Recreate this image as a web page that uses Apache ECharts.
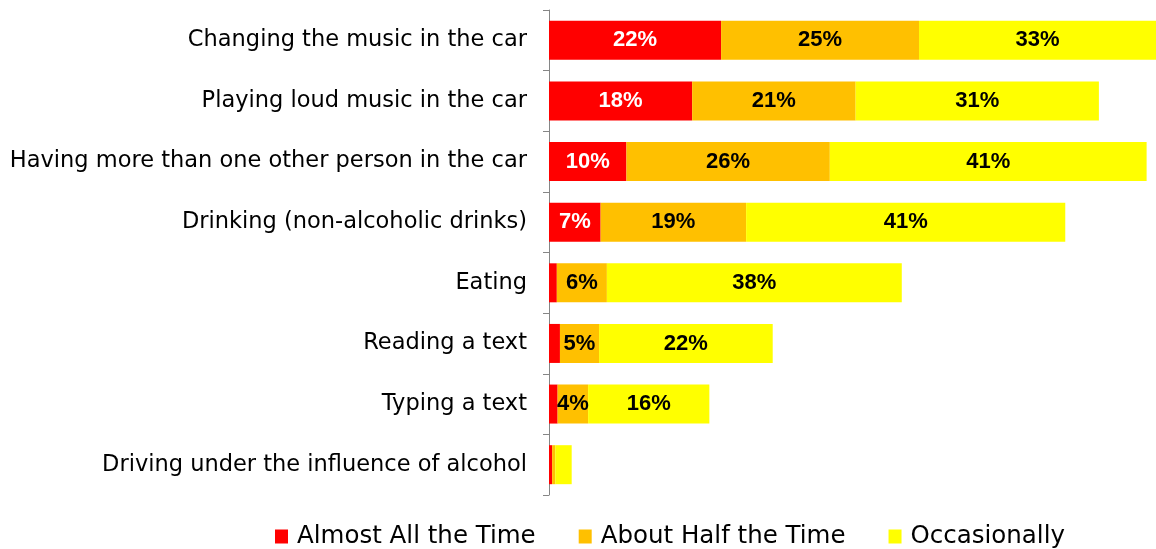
<!DOCTYPE html>
<html>
    <head>
        <meta charset="utf-8">
        <script src="https://cdn.jsdelivr.net/npm/echarts@6/dist/echarts.min.js"></script>
        <style>
            html, body { margin: 0; padding: 0; background: #fff; }
            #main { width: 1156px; height: 549px; }
        </style>
    </head>
    <body>
        <div id="main"></div>
        <script>
            var categories = [
                'Changing the music in the car',
                'Playing loud music in the car',
                'Having more than one other person in the car',
                'Drinking (non-alcoholic drinks)',
                'Eating',
                'Reading a text',
                'Typing a text',
                'Driving under the influence of alcohol'
            ];
            var almostAll = [22.0, 18.3, 9.9, 6.6, 1.0, 1.4, 1.1, 0.4];
            var aboutHalf = [25.3, 20.9, 26.0, 18.6, 6.4, 5.0, 3.9, 0.4];
            var occasionally = [33.0, 31.1, 40.5, 40.8, 37.7, 22.2, 15.5, 2.1];

            var chart = echarts.init(document.getElementById('main'));

            function pct(p) {
                // small segments carry no label
                return p.value < 3 ? '' : Math.round(p.value) + '%';
            }

            function makeSeries(name, data, color, textColor) {
                return {
                    name: name,
                    type: 'bar',
                    stack: 'all',
                    data: data,
                    barWidth: 39,
                    itemStyle: { color: color },
                    label: {
                        show: true,
                        position: 'inside',
                        formatter: pct,
                        color: textColor,
                        fontFamily: 'Liberation Sans',
                        fontWeight: 'bold',
                        fontSize: 22
                    }
                };
            }

            var option = {
                animation: false,
                backgroundColor: '#fff',
                grid: { left: 549, right: 0, top: 10, bottom: 54 },
                legend: {
                    left: 270,
                    top: 519,
                    itemWidth: 13,
                    itemHeight: 14,
                    itemGap: 43,
                    icon: 'rect',
                    textStyle: {
                        fontFamily: 'DejaVu Sans',
                        fontSize: 24.5,
                        color: '#000',
                        padding: [0, 0, 0, 4]
                    },
                    data: ['Almost All the Time', 'About Half the Time', 'Occasionally']
                },
                xAxis: {
                    type: 'value',
                    min: 0,
                    max: 77.6,
                    show: false
                },
                yAxis: {
                    type: 'category',
                    inverse: true,
                    data: categories,
                    axisLine: { show: true, lineStyle: { color: '#868686', width: 1 } },
                    axisTick: { show: true, length: 6, lineStyle: { color: '#868686' } },
                    axisLabel: {
                        margin: 22,
                        fontFamily: 'DejaVu Sans',
                        fontSize: 22.5,
                        color: '#000'
                    }
                },
                series: [
                    makeSeries('Almost All the Time', almostAll, '#ff0000', '#fff'),
                    makeSeries('About Half the Time', aboutHalf, '#ffc000', '#000'),
                    makeSeries('Occasionally', occasionally, '#ffff00', '#000')
                ]
            };
            chart.setOption(option);
        </script>
    </body>
</html>
